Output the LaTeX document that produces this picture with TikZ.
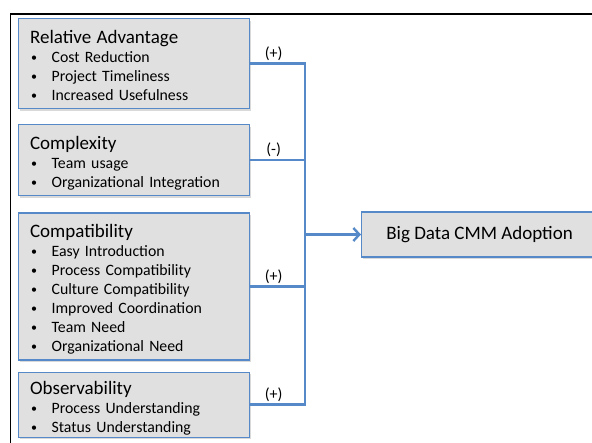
\documentclass[tikz,border=0pt]{standalone}
\usepackage{fontspec}
\setmainfont{Carlito}
\usetikzlibrary{positioning, arrows.meta, shadows}

\definecolor{cajagris}{RGB}{224,224,224}
\definecolor{lineaazul}{RGB}{86,137,199}

% Título y viñetas dentro de cada bloque
\newcommand{\titulo}[1]{{\fontsize{19}{19}\selectfont\rule{0pt}{21pt}#1}}
\newcommand{\punto}[1]{\\\makebox[21.5pt][l]{\hspace{1pt}\raisebox{1pt}{\fontsize{12}{12}\selectfont\textbullet}}#1\rule[-4pt]{0pt}{4pt}}

\begin{document}
\begin{tikzpicture}[x=1pt, y=-1pt, node distance=15pt]
		% Estilos de los bloques y conectores
		\tikzset{
			factor/.style={
					rectangle, draw=lineaazul, fill=cajagris, line width=1.2pt,
					text width=207.5pt, inner xsep=12pt, inner ysep=4pt, align=left,
					font=\fontsize{15.8}{19}\selectfont,
					drop shadow={shadow xshift=1.5pt, shadow yshift=-2pt, opacity=0.3}
				},
			meta/.style={
					rectangle, draw=lineaazul, fill=cajagris, line width=1.2pt,
					minimum width=236pt, minimum height=45pt,
					font=\fontsize{19}{22}\selectfont,
					drop shadow={shadow xshift=1.5pt, shadow yshift=-2pt, opacity=0.3}
				},
			link/.style={
					draw=lineaazul, line width=2.4pt
				},
			signo/.style={
					font=\fontsize{16}{18}\selectfont, % texto de los signos
					midway, above, xshift=-4pt, inner sep=2pt
				}
		}

		\useasboundingbox (0,0) rectangle (592,443);
		\clip (0,0) rectangle (592,443);
		\draw[line width=1.4pt] (10.5,14) rectangle (640,480);

		% Bloques de factores
		\node[factor, anchor=north west] (ra) at (17.5,18) {\titulo{Relative Advantage}\punto{Cost Reduction}\punto{Project Timeliness}\punto{Increased Usefulness}};
		\node[factor, below=of ra] (cx) {\titulo{Complexity}\punto{Team usage}\punto{Organizational Integration}};
		\node[factor, below=16pt of cx] (cp) {\titulo{Compatibility}\punto{Easy Introduction}\punto{Process Compatibility}\punto{Culture Compatibility}\punto{Improved Coordination}\punto{Team Need}\punto{Organizational Need}};
		\node[factor, inner ysep=1pt, below=11pt of cp] (ob) {\titulo{Observability}\punto{Process Understanding}\punto{Status Understanding}};

		% Barra colectora y bloque destino
		\coordinate (bus) at (305,234.5);
		\node[meta, right=56pt of bus] (ad) {Big Data CMM Adoption};

		% Conectores con signo
		\foreach \from/\sig in {ra/(+), cx/(-), cp/(+), ob/(+)} {
				\draw[link] (\from.east) -- (\from.east -| bus) node[signo] {\sig};
			}
		\draw[link, line cap=rect] (ra.east -| bus) -- (ob.east -| bus);
		\draw[link, -{Straight Barb[length=6pt, width=13pt]}] (bus) -- (ad);
	\end{tikzpicture}
\end{document}
